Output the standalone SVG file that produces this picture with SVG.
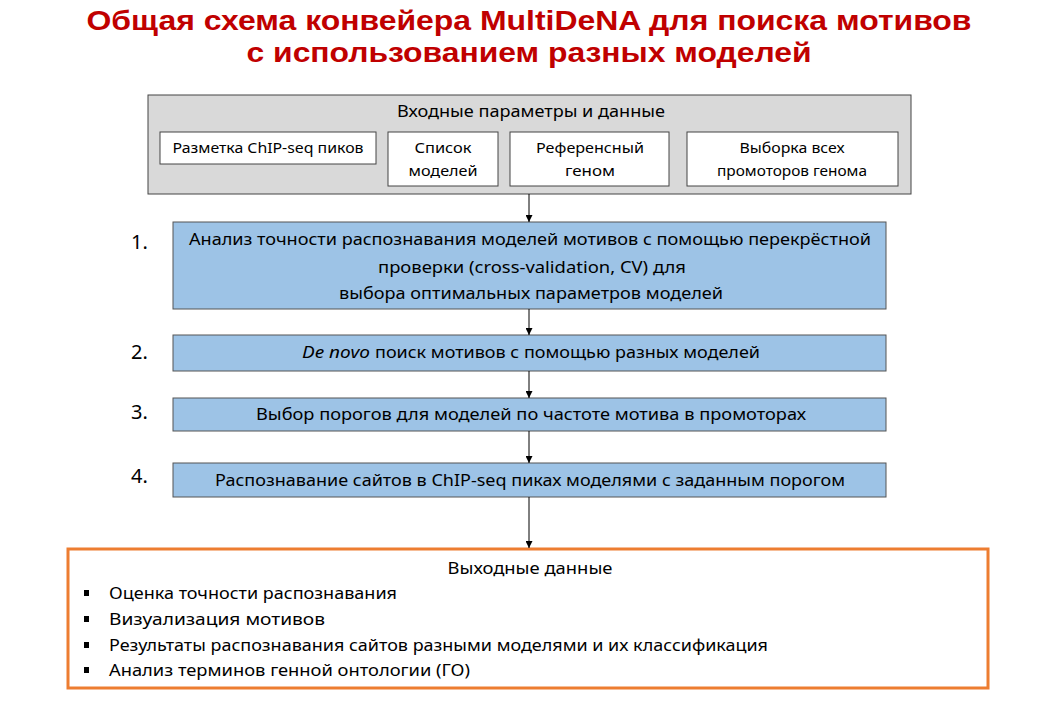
<svg xmlns="http://www.w3.org/2000/svg" width="1058" height="718" viewBox="0 0 1058 718">
<defs>
<marker id="ah" viewBox="0 0 10 10" refX="10" refY="5" markerWidth="7" markerHeight="7" markerUnits="userSpaceOnUse" orient="auto">
<path d="M0,0 L10,5 L0,10 z" fill="#000"/>
</marker>
<style>
.t{font-family:"Noto Sans","Liberation Sans",sans-serif;fill:#000;}
.title{font-family:"Liberation Sans",Arial,sans-serif;font-weight:bold;font-size:27px;fill:#c00000;text-anchor:middle;}
.m{font-size:16px;text-anchor:middle;}
.s{font-size:15px;text-anchor:middle;}
.num{font-family:"Noto Sans","Liberation Sans",sans-serif;font-size:20px;fill:#000;}
.blue{fill:#9dc3e6;stroke:#555;stroke-width:1;}
.wb{fill:#fff;stroke:#444;stroke-width:1;}
.conn{stroke:#000;stroke-width:1;fill:none;marker-end:url(#ah);}
</style>
</defs>
<rect width="1058" height="718" fill="#fff"/>
<g id="title">
<text class="title" x="529" y="30" textLength="885" lengthAdjust="spacingAndGlyphs">Общая схема конвейера MultiDeNA для поиска мотивов</text>
<text class="title" x="529" y="62" textLength="565" lengthAdjust="spacingAndGlyphs">с использованием разных моделей</text>
</g>
<g id="input">
<rect x="148" y="95" width="763" height="99" fill="#d9d9d9" stroke="#444" stroke-width="1"/>
<text class="t m" x="531" y="117" textLength="268" lengthAdjust="spacingAndGlyphs">Входные параметры и данные</text>
<g id="in1"><rect class="wb" x="160" y="132" width="216" height="32"/><text class="t s" x="268" y="153" textLength="191" lengthAdjust="spacingAndGlyphs">Разметка ChIP-seq пиков</text></g>
<g id="in2"><rect class="wb" x="388" y="132" width="110" height="54"/><text class="t s" x="443" y="153" textLength="57" lengthAdjust="spacingAndGlyphs">Список</text><text class="t s" x="443" y="176" textLength="69" lengthAdjust="spacingAndGlyphs">моделей</text></g>
<g id="in3"><rect class="wb" x="510" y="132" width="159" height="54"/><text class="t s" x="590" y="153" textLength="108" lengthAdjust="spacingAndGlyphs">Референсный</text><text class="t s" x="590" y="176" textLength="50" lengthAdjust="spacingAndGlyphs">геном</text></g>
<g id="in4"><rect class="wb" x="687" y="132" width="211" height="54"/><text class="t s" x="792" y="153" textLength="105" lengthAdjust="spacingAndGlyphs">Выборка всех</text><text class="t s" x="792" y="176" textLength="150" lengthAdjust="spacingAndGlyphs">промоторов генома</text></g>
</g>
<g id="step1">
<text class="num" x="131" y="249">1.</text>
<rect class="blue" x="173" y="222" width="713" height="87"/>
<text class="t m" x="530" y="245" textLength="682" lengthAdjust="spacingAndGlyphs">Анализ точности распознавания моделей мотивов с помощью перекрёстной</text>
<text class="t m" x="532" y="273" textLength="308" lengthAdjust="spacingAndGlyphs">проверки (cross-validation, CV) для</text>
<text class="t m" x="531" y="299" textLength="384" lengthAdjust="spacingAndGlyphs">выбора оптимальных параметров моделей</text>
</g>
<g id="step2">
<text class="num" x="131" y="359">2.</text>
<rect class="blue" x="173" y="335" width="713" height="36"/>
<text class="t" font-size="16" font-style="italic" x="302" y="358" textLength="68" lengthAdjust="spacingAndGlyphs">De novo</text>
<text class="t" font-size="16" x="375" y="358" textLength="385" lengthAdjust="spacingAndGlyphs">поиск мотивов с помощью разных моделей</text>
</g>
<g id="step3">
<text class="num" x="131" y="419">3.</text>
<rect class="blue" x="173" y="398" width="713" height="33"/>
<text class="t m" x="531" y="420" textLength="550" lengthAdjust="spacingAndGlyphs">Выбор порогов для моделей по частоте мотива в промоторах</text>
</g>
<g id="step4">
<text class="num" x="131" y="483">4.</text>
<rect class="blue" x="173" y="463" width="713" height="34"/>
<text class="t m" x="530" y="486" textLength="630" lengthAdjust="spacingAndGlyphs">Распознавание сайтов в ChIP-seq пиках моделями с заданным порогом</text>
</g>
<g id="output">
<rect x="68" y="549" width="920" height="139" fill="#fff" stroke="#ed7d31" stroke-width="3"/>
<text class="t m" x="530" y="574" textLength="165" lengthAdjust="spacingAndGlyphs">Выходные данные</text>
<rect x="84" y="590" width="5" height="6" fill="#000"/>
<rect x="84" y="616" width="5" height="6" fill="#000"/>
<rect x="84" y="642" width="5" height="6" fill="#000"/>
<rect x="84" y="667" width="5" height="6" fill="#000"/>
<text class="t" font-size="16" x="109" y="599" textLength="288" lengthAdjust="spacingAndGlyphs">Оценка точности распознавания</text>
<text class="t" font-size="16" x="109" y="625" textLength="216" lengthAdjust="spacingAndGlyphs">Визуализация мотивов</text>
<text class="t" font-size="16" x="109" y="651" textLength="659" lengthAdjust="spacingAndGlyphs">Результаты распознавания сайтов разными моделями и их классификация</text>
<text class="t" font-size="16" x="109" y="676" textLength="361" lengthAdjust="spacingAndGlyphs">Анализ терминов генной онтологии (ГО)</text>
</g>
<g id="connectors">
<line class="conn" x1="529" y1="194" x2="529" y2="222"/>
<line class="conn" x1="529" y1="309" x2="529" y2="335"/>
<line class="conn" x1="529" y1="371" x2="529" y2="398"/>
<line class="conn" x1="529" y1="431" x2="529" y2="463"/>
<line class="conn" x1="529" y1="497" x2="529" y2="548"/>
</g>
</svg>
